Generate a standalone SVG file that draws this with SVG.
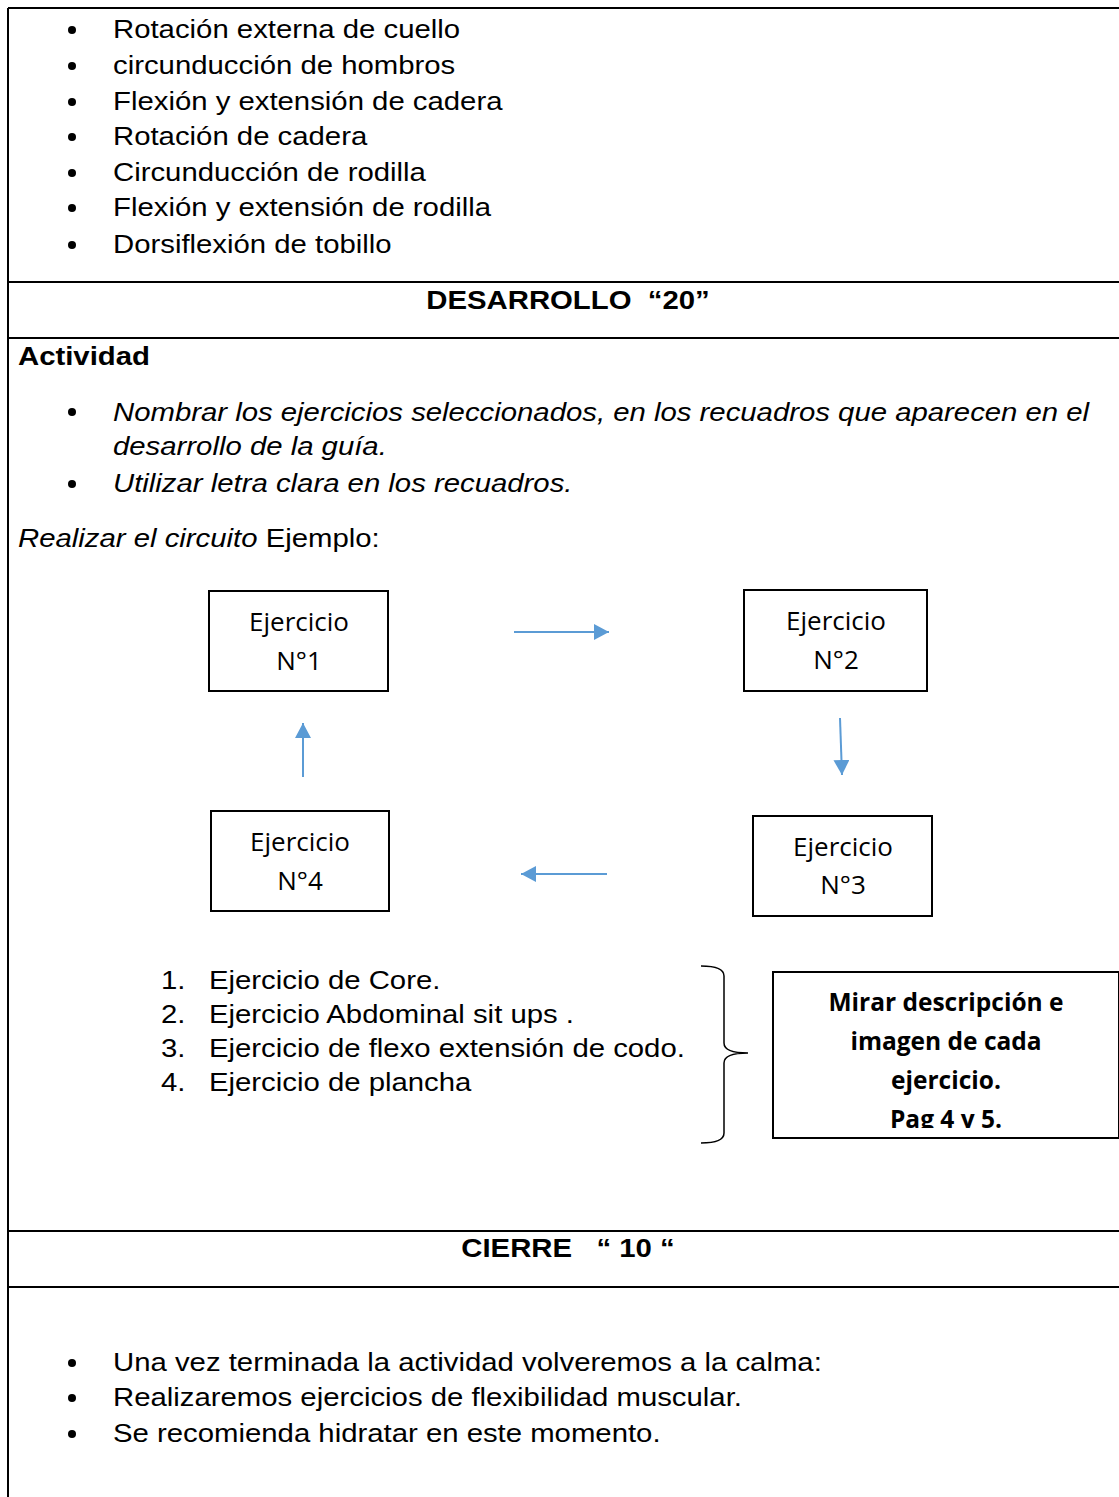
<svg xmlns="http://www.w3.org/2000/svg" width="1119" height="1497" viewBox="0 0 1119 1497">
<style>
.t{font-family:"Liberation Sans",Arial,sans-serif;font-size:26px;fill:#000}
.b{font-weight:bold}
.i{font-style:italic}
.c{font-family:"Open Sans","Noto Sans",sans-serif;font-size:26px;fill:#000;text-anchor:middle}
.cb{font-family:"Open Sans","Noto Sans",sans-serif;font-size:24.5px;font-weight:bold;fill:#000;text-anchor:middle}
.rule{stroke:#000;stroke-width:2;fill:none}
.box{stroke:#000;stroke-width:2;fill:#fff}
.arr{stroke:#5B9BD5;stroke-width:2;fill:none;marker-end:url(#ah)}
</style>
<defs>
<marker id="ah" viewBox="0 0 15 16" refX="15" refY="8" markerWidth="15" markerHeight="16" markerUnits="userSpaceOnUse" orient="auto">
<path d="M0,0 L15,8 L0,16 z" fill="#5B9BD5"/>
</marker>
<clipPath id="clipM"><rect x="774" y="973" width="344" height="155"/></clipPath>
</defs>
<rect width="1119" height="1497" fill="#fff"/>
<g id="table">
<path class="rule" d="M8,8 H1119 M8,8 V1497 M8,282 H1119 M8,338 H1119 M8,1231 H1119 M8,1287 H1119"/>
</g>
<g id="bullets">
<circle cx="72" cy="30" r="4"/><circle cx="72" cy="66" r="4"/><circle cx="72" cy="102" r="4"/><circle cx="72" cy="137" r="4"/><circle cx="72" cy="173" r="4"/><circle cx="72" cy="208" r="4"/><circle cx="72" cy="245" r="4"/>
<circle cx="72" cy="412" r="4"/><circle cx="72" cy="484" r="4"/>
<circle cx="72" cy="1363" r="4"/><circle cx="72" cy="1398" r="4"/><circle cx="72" cy="1434" r="4"/>
</g>
<g id="texts" transform="scale(1.128,1)">
<text class="t" x="100.18" y="38">Rotación externa de cuello</text>
<text class="t" x="100.18" y="74">circunducción de hombros</text>
<text class="t" x="100.18" y="110">Flexión y extensión de cadera</text>
<text class="t" x="100.18" y="145">Rotación de cadera</text>
<text class="t" x="100.18" y="181">Circunducción de rodilla</text>
<text class="t" x="100.18" y="216">Flexión y extensión de rodilla</text>
<text class="t" x="100.18" y="253">Dorsiflexión de tobillo</text>
<text class="t b" x="503.55" y="309" text-anchor="middle" xml:space="preserve">DESARROLLO  “20”</text>
<text class="t b" x="15.96" y="365">Actividad</text>
<text class="t i" x="100.18" y="421">Nombrar los ejercicios seleccionados, en los recuadros que aparecen en el</text>
<text class="t i" x="100.18" y="455">desarrollo de la guía.</text>
<text class="t i" x="100.18" y="492">Utilizar letra clara en los recuadros.</text>
<text class="t" x="15.96" y="547"><tspan font-style="italic">Realizar el circuito</tspan> Ejemplo:</text>
<text class="t" x="142.73" y="989">1.</text><text class="t" x="185.28" y="989">Ejercicio de Core.</text>
<text class="t" x="142.73" y="1023">2.</text><text class="t" x="185.28" y="1023">Ejercicio Abdominal sit ups .</text>
<text class="t" x="142.73" y="1057">3.</text><text class="t" x="185.28" y="1057">Ejercicio de flexo extensión de codo.</text>
<text class="t" x="142.73" y="1091">4.</text><text class="t" x="185.28" y="1091">Ejercicio de plancha</text>
<text class="t b" x="503.55" y="1257" text-anchor="middle" xml:space="preserve">CIERRE   “ 10 “</text>
<text class="t" x="100.18" y="1371">Una vez terminada la actividad volveremos a la calma:</text>
<text class="t" x="100.18" y="1406">Realizaremos ejercicios de flexibilidad muscular.</text>
<text class="t" x="100.18" y="1442">Se recomienda hidratar en este momento.</text>
</g>
<g id="n1"><rect class="box" x="209" y="591" width="179" height="100"/><text class="c" x="299" y="631">Ejercicio</text><text class="c" x="299" y="670">N°1</text></g>
<g id="n2"><rect class="box" x="744" y="590" width="183" height="101"/><text class="c" x="836" y="630">Ejercicio</text><text class="c" x="836" y="669">N°2</text></g>
<g id="n3"><rect class="box" x="753" y="816" width="179" height="100"/><text class="c" x="843" y="856">Ejercicio</text><text class="c" x="843" y="894">N°3</text></g>
<g id="n4"><rect class="box" x="211" y="811" width="178" height="100"/><text class="c" x="300" y="851">Ejercicio</text><text class="c" x="300" y="890">N°4</text></g>
<g id="connectors">
<line class="arr" x1="514" y1="632" x2="609" y2="632"/>
<line class="arr" x1="840" y1="718" x2="842" y2="775"/>
<line class="arr" x1="607" y1="874" x2="521" y2="874"/>
<line class="arr" x1="303" y1="777" x2="303" y2="723"/>
</g>
<g id="brace">
<path d="M701,966 Q724,966 724,976 V1043 Q724,1053 748,1053 Q724,1053 724,1063 V1133 Q724,1143 701,1143" stroke="#000" stroke-width="1.5" fill="none"/>
</g>
<g id="note">
<rect class="box" x="773" y="972" width="346" height="166"/>
<g clip-path="url(#clipM)">
<text class="cb" x="946" y="1011">Mirar descripción e</text>
<text class="cb" x="946" y="1050">imagen de cada</text>
<text class="cb" x="946" y="1089">ejercicio.</text>
<text class="cb" x="946" y="1128">Pag 4 y 5.</text>
</g>
</g>
</svg>
